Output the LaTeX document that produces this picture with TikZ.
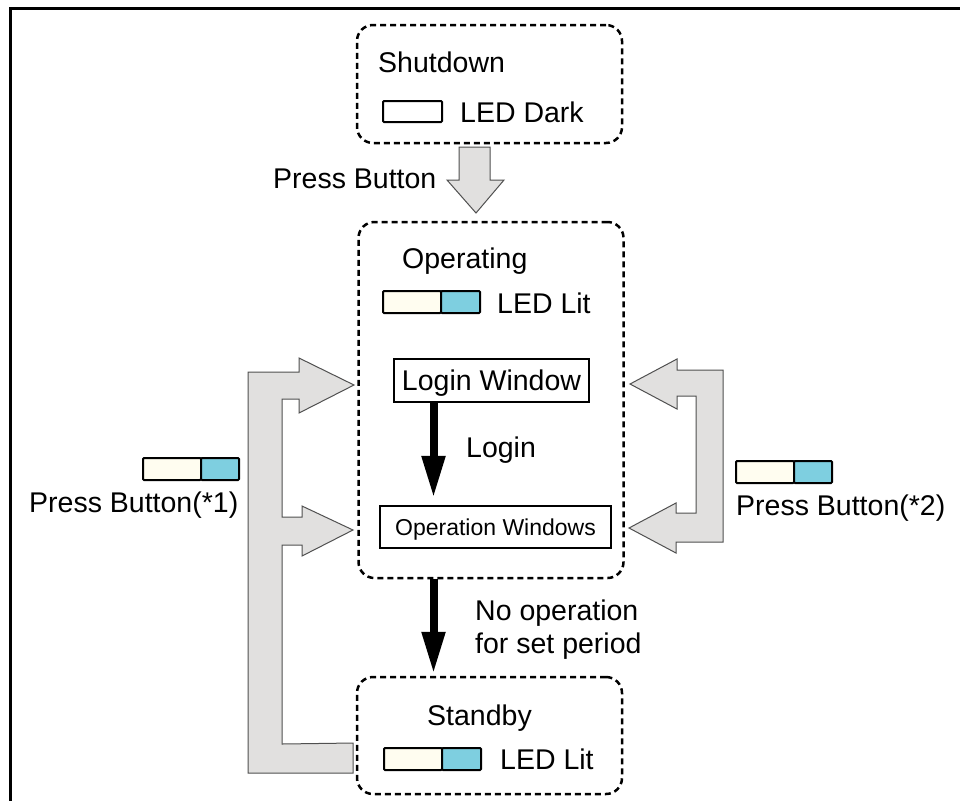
\documentclass[tikz,border=0pt]{standalone}
\usepackage{fontspec}
\setmainfont{Liberation Sans}
\usetikzlibrary{arrows.meta}
\definecolor{cream}{HTML}{FFFDF0}
\definecolor{ledblue}{HTML}{7ECFE0}
\definecolor{blockgray}{HTML}{E1E0DF}
\definecolor{blockline}{HTML}{505050}
\begin{document}
\begin{tikzpicture}[x=1pt,y=-1pt,
  lbl/.style={inner sep=0pt, anchor=base west, font=\fontsize{28.5}{34}\selectfont},
  statebox/.style={draw, line width=2.5pt, dash pattern=on 6pt off 4pt, rounded corners=16pt, minimum width=265pt, inner sep=0pt},
  winbox/.style={draw, line width=2.2pt, inner sep=0pt, text height=20.4pt, text depth=0pt},
  blockarrow/.style={fill=blockgray, draw=blockline, line width=1pt, line join=miter},
  blackarrow/.style={line width=8pt, -{Triangle[length=42pt,width=22pt]}},
  ledbox/.style={draw, line width=2pt, inner sep=0pt, outer sep=0pt, minimum height=22pt, anchor=north west, rounded corners=1pt}
]
\useasboundingbox (0,0) rectangle (960,801);
\fill[white] (0,0) rectangle (960,801);
% frame
\draw[line width=3pt] (960,8.5) -- (10.5,8.5) -- (10.5,801);

% state boxes
\node[statebox, minimum height=118pt] (shutdown) at (489.5,84) {};
\node[statebox, minimum height=356pt] (operating) at (491,400) {};
\node[statebox, minimum height=117pt] (standby) at (489.5,735.5) {};

% Shutdown content
\node[lbl] (tshut) at (378,72) {Shutdown};
\node[ledbox, fill=white, minimum width=59pt, minimum height=21pt] (ledoff) at (383,101) {};
\node[lbl] (tdark) at (460,122) {LED Dark};

% top gray arrow
\draw[blockarrow] (459,147) -- (490,147) -- (490,180) -- (504,180) -- (476,213) -- (447,180) -- (459,180) -- cycle;
\node[lbl] (tpress) at (273,188) {Press Button};

% Operating content
\node[lbl] (toper) at (402,268) {Operating};
\node[ledbox, fill=cream, minimum width=58pt] (opledA) at (383,291) {};
\node[ledbox, fill=ledblue, minimum width=39pt] (opledB) at (441,291) {};
\node[lbl] (toplit) at (497,313) {LED Lit};

\node[winbox, minimum width=195pt, minimum height=43pt, font=\fontsize{28.5}{34}\selectfont] (loginwin) at (491.5,380.5) {Login Window};
\node[winbox, minimum width=231pt, minimum height=42pt, text height=16.5pt, font=\fontsize{23}{28}\selectfont] (opwin) at (495.5,527) {Operation Windows};

\coordinate (ax) at (433.5,0);
\draw[blackarrow, shorten >=7pt] (loginwin.south -| ax) -- (opwin.north -| ax);
\node[lbl] (tlogin) at (466,457) {Login};

\draw[blackarrow, shorten >=2pt] (operating.south -| ax) -- (standby.north -| ax);
\node[lbl] (tnoop) at (475,620) {No operation};
\node[lbl] (tperiod) at (475,653) {for set period};

% Standby content
\node[lbl] (tstandby) at (427,725) {Standby};
\node[ledbox, fill=cream, minimum width=58pt] (sbledA) at (384,748) {};
\node[ledbox, fill=ledblue, minimum width=39pt] (sbledB) at (442,748) {};
\node[lbl] (tsblit) at (500,769) {LED Lit};

% left block arrows
\draw[blockarrow] (248,773) -- (248,372) -- (299,372) -- (299,358) -- (354,385) -- (299,413) -- (299,399) -- (282,399) -- (282,517) -- (302,517) -- (302,506) -- (353,530) -- (302,556) -- (302,545) -- (282,545) -- (282,744) -- (353,743) -- (353,773) -- cycle;
\node[ledbox, fill=cream, minimum width=58pt] (lledA) at (143,458) {};
\node[ledbox, fill=ledblue, minimum width=38pt] (lledB) at (201,458) {};
\node[lbl] (tp1) at (29,512) {Press Button(*1)};

% right block arrows
\draw[blockarrow] (723,370) -- (677,370) -- (677,359) -- (630,384) -- (677,409) -- (677,396) -- (696,396) -- (696,513) -- (676,513) -- (676,503) -- (629,528) -- (676,553) -- (676,542) -- (723,542) -- cycle;
\node[ledbox, fill=cream, minimum width=58pt] (rledA) at (736,461) {};
\node[ledbox, fill=ledblue, minimum width=38pt] (rledB) at (794,461) {};
\node[lbl] (tp2) at (736,515) {Press Button(*2)};
\end{tikzpicture}
\end{document}
